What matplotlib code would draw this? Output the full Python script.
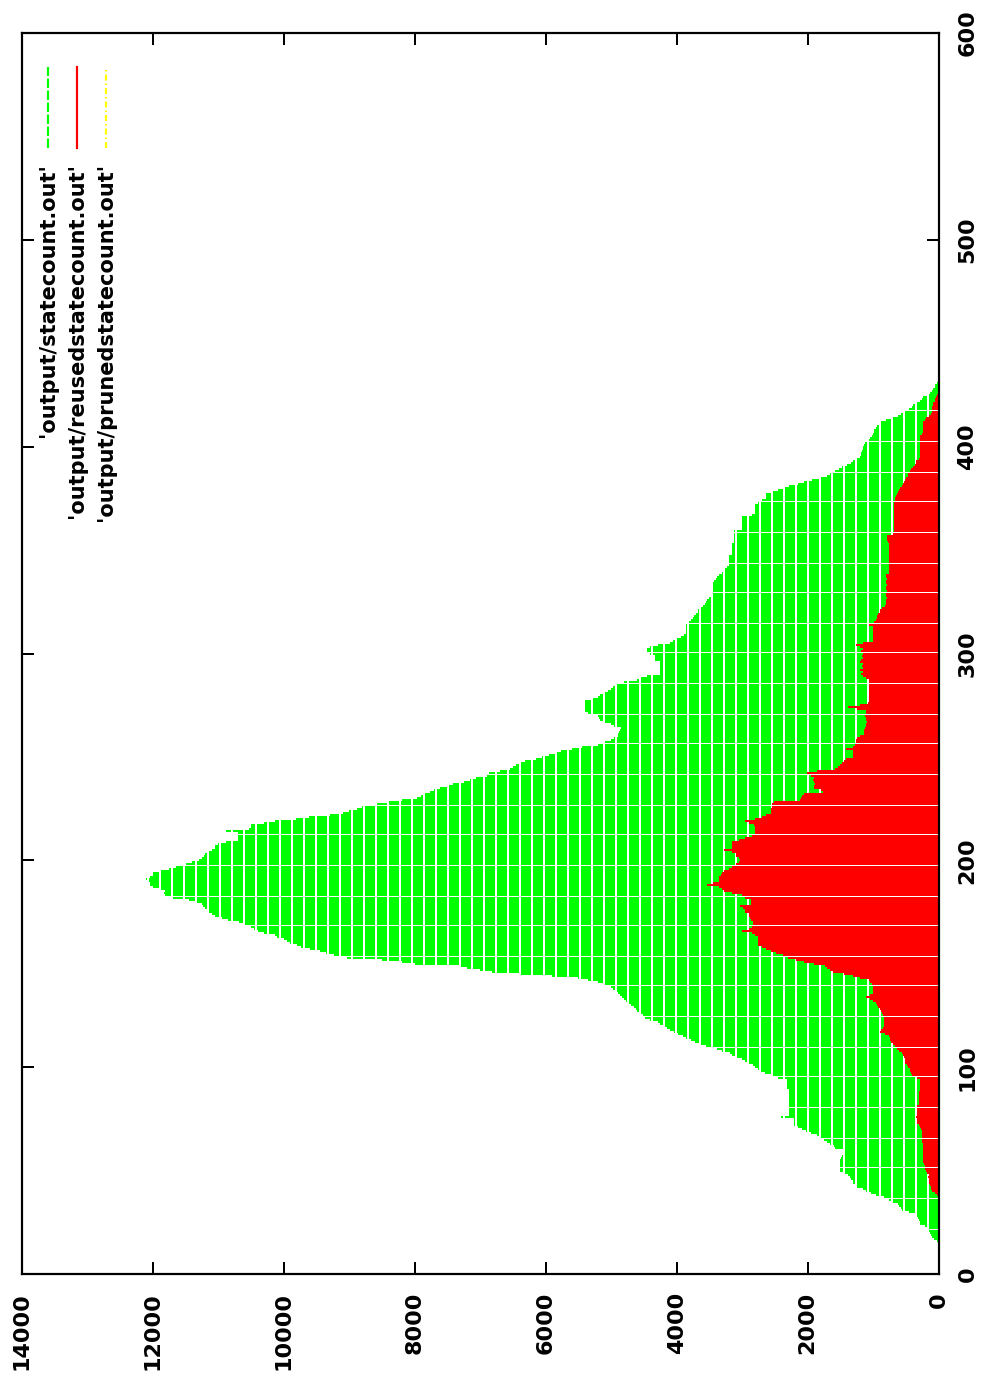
import matplotlib
matplotlib.use("Agg")
import matplotlib.pyplot as plt
import numpy as np

# figure size in pixels
W, H = 982, 1382
DPI = 100

# one value per step (x = 0, 1, 2, ...)
statecount = [
    0, 0, 0, 0, 0, 0, 0, 0, 0, 0,
    0, 0, 0, 0, 0, 0, 30, 75, 100, 115,
    130, 140, 150, 200, 275, 290, 300, 315, 330, 350,
    450, 550, 580, 600, 625, 700, 760, 825, 950, 1030,
    1100, 1150, 1250, 1280, 1300, 1310, 1330, 1350, 1375, 1450,
    1500, 1500, 1510, 1500, 1500, 1500, 1490, 1480, 1460, 1450,
    1450, 1575, 1600, 1650, 1700, 1750, 1800, 1850, 1950, 2030,
    2090, 2150, 2200, 2200, 2210, 2200, 2400, 2290, 2290, 2290,
    2290, 2290, 2290, 2290, 2290, 2290, 2290, 2290, 2290, 2290,
    2320, 2320, 2320, 2320, 2320, 2450, 2560, 2650, 2720, 2760,
    2800, 2840, 2900, 2950, 3000, 3080, 3150, 3190, 3300, 3390,
    3550, 3650, 3720, 3780, 3850, 3900, 3980, 4040, 4100, 4150,
    4200, 4250, 4290, 4400, 4480, 4520, 4560, 4600, 4620, 4650,
    4700, 4740, 4780, 4810, 4840, 4870, 4900, 4930, 4970, 5010,
    5100, 5200, 5350, 5500, 5900, 6400, 6820, 7000, 7200, 7300,
    8000, 8200, 8500, 9030, 9230, 9350, 9450, 9600, 9740, 9800,
    9900, 9950, 10000, 10100, 10140, 10300, 10400, 10450, 10500, 10600,
    10690, 10850, 10950, 11050, 11100, 11160, 11170, 11200, 11230, 11250,
    11350, 11450, 11700, 11810, 11830, 11810, 11900, 12000, 12050, 12050,
    12080, 12110, 12050, 12000, 12000, 11900, 11750, 11650, 11500, 11400,
    11300, 11250, 11220, 11200, 11160, 11100, 11050, 11050, 11000, 10890,
    10700, 10700, 10700, 10700, 10890, 10530, 10500, 10500, 10300, 10140,
    9820, 9620, 9300, 9100, 9000, 8880, 8800, 8600, 8400, 8200,
    7960, 7900, 7850, 7770, 7700, 7610, 7500, 7410, 7250, 7150,
    7060, 6900, 6860, 6700, 6550, 6500, 6460, 6380, 6310, 6150,
    6050, 5950, 5850, 5760, 5600, 5450, 5200, 5120, 5000, 4950,
    4900, 4900, 4880, 4860, 4850, 4950, 5010, 5100, 5170, 5180,
    5200, 5360, 5400, 5400, 5400, 5400, 5400, 5400, 5300, 5200,
    5170, 5100, 5050, 5010, 4970, 4930, 4810, 4600, 4550, 4450,
    4250, 4250, 4250, 4250, 4250, 4250, 4250, 4330, 4330, 4330,
    4400, 4450, 4450, 4400, 4290, 4100, 4050, 4000, 3940, 3880,
    3850, 3850, 3850, 3850, 3850, 3820, 3780, 3750, 3740, 3700,
    3680, 3670, 3640, 3600, 3570, 3550, 3540, 3500, 3480, 3470,
    3470, 3470, 3470, 3470, 3470, 3430, 3400, 3390, 3350, 3300,
    3280, 3270, 3230, 3200, 3200, 3200, 3200, 3200, 3150, 3150,
    3150, 3150, 3150, 3150, 3120, 3120, 3120, 3120, 3120, 3120,
    3000, 3000, 3000, 3000, 3000, 3000, 3000, 2850, 2800, 2800,
    2800, 2800, 2800, 2750, 2700, 2640, 2640, 2640, 2560, 2450,
    2350, 2280, 2150, 2050, 1925, 1800, 1700, 1650, 1580, 1520,
    1480, 1400, 1330, 1300, 1250, 1200, 1190, 1180, 1170, 1160,
    1150, 1140, 1130, 1080, 1040, 1020, 1000, 990, 980, 960,
    940, 910, 880, 800, 700, 625, 580, 520, 450, 400,
    390, 330, 275, 250, 230, 180, 130, 95, 80, 60,
    50, 30, 0, 0, 0, 0,
]

reusedstatecount = [
    0, 0, 0, 0, 0, 0, 0, 0, 0, 0,
    0, 0, 0, 0, 0, 0, 0, 0, 0, 0,
    0, 0, 0, 0, 0, 0, 0, 0, 0, 0,
    0, 0, 0, 0, 0, 0, 0, 0, 30, 60,
    100, 110, 120, 130, 140, 150, 150, 160, 150, 170,
    190, 200, 210, 220, 230, 230, 230, 230, 230, 230,
    230, 230, 230, 240, 250, 250, 250, 250, 250, 250,
    270, 275, 300, 330, 330, 330, 350, 330, 330, 330,
    330, 330, 305, 305, 305, 305, 305, 305, 305, 280,
    280, 280, 280, 280, 275, 330, 400, 420, 430, 440,
    460, 480, 505, 507, 510, 530, 540, 550, 600, 640,
    665, 700, 720, 740, 745, 750, 820, 900, 880, 850,
    830, 825, 825, 825, 840, 850, 860, 880, 900, 920,
    940, 950, 1000, 1050, 1100, 1050, 1000, 1000, 1000, 1000,
    1020, 1040, 1060, 1200, 1300, 1450, 1610, 1650, 1700, 1730,
    1900, 2050, 2170, 2300, 2370, 2480, 2560, 2640, 2700, 2760,
    2760, 2760, 2760, 2760, 2800, 2850, 3000, 2900, 2850, 2840,
    2840, 2870, 2880, 2900, 2900, 2950, 2950, 2980, 3030, 2870,
    2870, 2870, 2950, 3000, 3150, 3270, 3300, 3350, 3540, 3450,
    3350, 3350, 3350, 3330, 3300, 3270, 3200, 3150, 3100, 3050,
    3030, 3050, 3100, 3100, 3150, 3270, 3150, 3150, 3150, 3150,
    3050, 2950, 2850, 2800, 2800, 2800, 2800, 2820, 2900, 2950,
    2800, 2700, 2640, 2560, 2560, 2560, 2550, 2540, 2520, 2120,
    2100, 2080, 2050, 1770, 1800, 1900, 1900, 1880, 1900, 1920,
    1900, 1950, 2010, 1850, 1575, 1540, 1500, 1470, 1440, 1420,
    1300, 1300, 1300, 1300, 1420, 1300, 1280, 1260, 1260, 1250,
    1200, 1140, 1140, 1140, 1120, 1100, 1100, 1090, 1100, 1100,
    1120, 1100, 1100, 1250, 1375, 1200, 1080, 1060, 1060, 1060,
    1060, 1060, 1060, 1060, 1060, 1060, 1060, 1060, 1100, 1150,
    1180, 1150, 1200, 1150, 1170, 1150, 1200, 1180, 1150, 1170,
    1150, 1180, 1150, 1200, 1260, 1150, 1000, 1000, 1000, 1000,
    1000, 1000, 1000, 1000, 1060, 980, 960, 940, 940, 920,
    900, 900, 860, 820, 800, 800, 800, 780, 800, 800,
    780, 800, 800, 780, 800, 800, 780, 800, 800, 750,
    750, 750, 750, 750, 750, 750, 750, 750, 750, 750,
    750, 750, 750, 760, 770, 780, 785, 785, 700, 680,
    680, 680, 680, 680, 680, 680, 680, 680, 680, 680,
    680, 680, 680, 680, 670, 665, 650, 640, 620, 600,
    590, 560, 540, 520, 505, 490, 470, 470, 440, 420,
    390, 360, 350, 340, 300, 290, 280, 280, 275, 275,
    275, 275, 275, 275, 275, 275, 250, 240, 230, 230,
    230, 230, 230, 200, 190, 150, 110, 100, 95, 93,
    90, 80, 60, 50, 40, 30, 0, 0, 0, 0,
    0, 0, 0, 0, 0, 0,
]

# nothing of this series shows up in the picture
prunedstatecount = [0] * len(statecount)

files = ["'output/statecount.out'", "'output/reusedstatecount.out'",
         "'output/prunedstatecount.out'"]
colors = ["#00ff00", "#ff0000", "#ffff00"]
count_ticks = [0, 2000, 4000, 6000, 8000, 10000, 12000, 14000]
step_ticks = [0, 100, 200, 300, 400, 500, 600]


def px(v):
    # pixels -> points
    return v * 72.0 / DPI


plt.rcParams['font.family'] = ['DejaVu Sans']
plt.rcParams['font.weight'] = 'bold'
plt.rcParams['lines.scale_dashes'] = False

fig = plt.figure(figsize=(W / DPI, H / DPI), dpi=DPI)
# the page is printed rotated: steps run up the right side, counts run right-to-left
ax = fig.add_axes([22 / W, 1 - 1274 / H, (938.5 - 22) / W, (1274 - 33) / H])

green_dash = (0, (px(9.5), px(2.5)))
yellow_dash = (0, (px(6), px(3), px(1.5), px(3)))
styles = [green_dash, 'solid', yellow_dash]
lw = px(1.8)

# impulses: one line per step, from 0 out to the value
steps = np.arange(len(statecount))
for vals, col, ls in zip([statecount, reusedstatecount, prunedstatecount], colors, styles):
    for s, v in zip(steps, vals):
        if v <= 0:
            continue
        ax.plot([0, v], [s, s], color=col, linewidth=lw, linestyle=ls,
                dash_capstyle='butt', solid_capstyle='butt', antialiased=False)

ax.set_xlim(14000, 0)
ax.set_ylim(0, 600)
ax.set_xticks(count_ticks)
ax.set_yticks(step_ticks)
ax.set_xticklabels([str(t) for t in count_ticks])
ax.set_yticklabels([str(t) for t in step_ticks])
ax.yaxis.tick_right()
ax.tick_params(axis='both', direction='in', length=px(12), width=px(2),
               top=True, bottom=True, left=True, right=True, labelsize=16)
ax.tick_params(axis='x', pad=px(18))
ax.tick_params(axis='y', pad=px(19))
plt.setp(ax.get_xticklabels(), rotation=90, ha='center', va='top')
plt.setp(ax.get_yticklabels(), rotation=90, ha='left', va='center')
for s in ax.spines.values():
    s.set_linewidth(px(2.2))

# legend, drawn by hand because the whole key is rotated
leg_x = [48, 77, 106]
for i in range(3):
    x = leg_x[i] / W
    fig.add_artist(plt.Line2D([x, x], [1 - 148 / H, 1 - 67 / H], color=colors[i],
                              linewidth=px(2.2), linestyle=styles[i],
                              transform=fig.transFigure))
    fig.text(x, 1 - 163 / H, files[i], rotation=90, rotation_mode='anchor',
             ha='right', va='center', fontsize=15, fontweight='bold')

fig.savefig("out.png", dpi=DPI)
